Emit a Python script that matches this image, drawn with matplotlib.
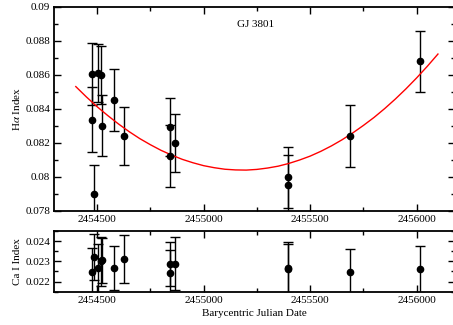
import matplotlib
matplotlib.use("Agg")
import matplotlib.pyplot as plt
from matplotlib.ticker import MultipleLocator, FuncFormatter

plt.rcParams['font.family'] = ['Liberation Serif', 'DejaVu Serif']
plt.rcParams['font.size'] = 8
plt.rcParams['mathtext.fontset'] = 'stix'

# H-alpha index measurements
bjd = [2454476, 2454476, 2454485, 2454506, 2454516, 2454523, 2454579, 2454627,
       2454843, 2454843, 2454868, 2455395, 2455395, 2455686, 2456016]
halpha = [0.08603, 0.08336, 0.07900, 0.08611, 0.08596, 0.08300, 0.08451, 0.08242,
          0.08291, 0.08122, 0.08199, 0.07998, 0.07951, 0.08240, 0.08678]
halpha_err = [0.0018, 0.0019, 0.0017, 0.0017, 0.0017, 0.0018, 0.0018, 0.0017,
              0.0017, 0.0018, 0.0017, 0.0018, 0.0018, 0.0018, 0.0018]

# fitted trend
fit_x = [2454400, 2454450, 2454500, 2454550, 2454600, 2454650, 2454700, 2454750,
         2454800, 2454850, 2454900, 2454950, 2455000, 2455050, 2455100, 2455150,
         2455200, 2455250, 2455300, 2455350, 2455400, 2455450, 2455500, 2455550,
         2455600, 2455650, 2455700, 2455750, 2455800, 2455850, 2455900, 2455950,
         2456000, 2456050, 2456100]
fit_y = [0.08530, 0.08469, 0.08412, 0.08360, 0.08311, 0.08266, 0.08225, 0.08189,
         0.08156, 0.08128, 0.08103, 0.08083, 0.08066, 0.08054, 0.08045, 0.08041,
         0.08040, 0.08044, 0.08052, 0.08063, 0.08079, 0.08099, 0.08122, 0.08150,
         0.08182, 0.08218, 0.08258, 0.08302, 0.08349, 0.08401, 0.08457, 0.08517,
         0.08581, 0.08649, 0.08721]

# Ca I index measurements
bjd_ca = [2454476, 2454485, 2454506, 2454516, 2454523, 2454579, 2454627,
          2454843, 2454843, 2454868, 2455395, 2455395, 2455686, 2456016]
cai = [0.02246, 0.02322, 0.02265, 0.02300, 0.02305, 0.02268, 0.02311,
       0.02288, 0.02241, 0.02288, 0.02268, 0.02262, 0.02246, 0.02260]
cai_err = [0.0012, 0.00115, 0.0012, 0.0012, 0.0011, 0.0011, 0.0012,
           0.0011, 0.00115, 0.0013, 0.00126, 0.00122, 0.00115, 0.00116]

fig = plt.figure(figsize=(4.53, 3.25), dpi=100)
ax1 = fig.add_axes([0.1203, 0.3508, 0.8841, 0.6292])
ax2 = fig.add_axes([0.1203, 0.1025, 0.8841, 0.1867])

ax1.errorbar(bjd, halpha, yerr=halpha_err, fmt='o', color='black', ms=4.5,
             capsize=3.6, elinewidth=1.0, capthick=1.0)
ax1.plot(fit_x, fit_y, color='red', lw=1.0)
ax1.text(2455159, 0.08897, 'GJ 3801', fontsize=8, va='center')
ax1.set_ylabel(r'H$\alpha$ Index')
ax1.set_ylim(0.078, 0.09)
ax1.yaxis.set_major_locator(MultipleLocator(0.002))
ax1.yaxis.set_minor_locator(MultipleLocator(0.001))
ax1.yaxis.set_major_formatter(FuncFormatter(lambda v, p: '%g' % round(v, 4)))

ax2.errorbar(bjd_ca, cai, yerr=cai_err, fmt='o', color='black', ms=4.5,
             capsize=3.6, elinewidth=1.0, capthick=1.0)
ax2.set_ylabel('Ca I Index')
ax2.set_xlabel('Barycentric Julian Date', labelpad=3)
ax2.set_ylim(0.0215, 0.0245)
ax2.yaxis.set_major_locator(MultipleLocator(0.001))
ax2.yaxis.set_minor_locator(MultipleLocator(0.0005))
ax2.yaxis.set_major_formatter(FuncFormatter(lambda v, p: '%g' % round(v, 4)))

for ax in (ax1, ax2):
    ax.set_xlim(2454300, 2456180)
    ax.xaxis.set_major_locator(MultipleLocator(500))
    ax.xaxis.set_minor_locator(MultipleLocator(250))
    ax.xaxis.set_major_formatter(FuncFormatter(lambda v, p: '%d' % v))
    ax.tick_params(which='both', direction='in', top=True, right=True, labelsize=8, pad=3)
    ax.tick_params(which='major', length=5, width=1)
    ax.tick_params(which='minor', length=3, width=1)
    for s in ax.spines.values():
        s.set_linewidth(1.3)
    ax.yaxis.set_label_coords(-0.08, 0.5)

fig.savefig('out.png', dpi=100)
